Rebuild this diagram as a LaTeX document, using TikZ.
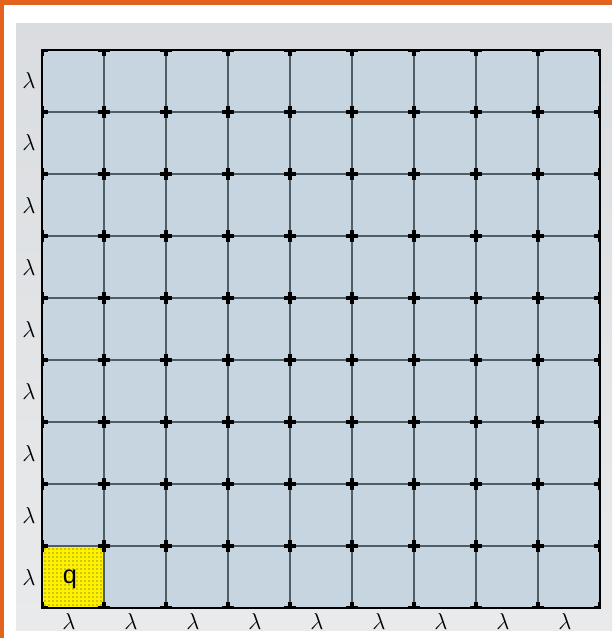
\documentclass[tikz,border=0pt]{standalone}
\usepackage{fontspec}
\newfontfamily\arialfont{Liberation Sans}
\definecolor{frameorange}{HTML}{E2631E}
\definecolor{panelgray}{HTML}{D6D9DC}
\definecolor{cellblue}{HTML}{C6D5E0}
\definecolor{innerline}{HTML}{4F5E66}
\definecolor{qyellow}{HTML}{FFF200}
\tikzset{
  gridline/.style={draw=innerline, line width=1.2pt},
  borderline/.style={draw=black, line width=2.2pt},
  joint/.style={line width=2.4pt, draw=black},
  lam/.style={font=\fontsize{18}{18}\selectfont, inner sep=0pt},
}
\begin{document}
\begin{tikzpicture}[x=0.75pt,y=-0.75pt]
\useasboundingbox (0,0) rectangle (612,638);
% background and frame
\fill[white] (0,0) rectangle (612,638);
\fill[frameorange] (0,0) rectangle (612,5);
\fill[frameorange] (0,0) rectangle (4,638);
\shade[top color=panelgray!90!white, bottom color=panelgray!55!white] (16,24) rectangle (612,630);
% cells
\fill[cellblue] (42,50) rectangle (600,608);
\fill[qyellow] (42,546) rectangle (104,608);
\foreach \a in {0,...,14} {
  \foreach \b in {0,...,14} {
    \fill[black!80] ({45+4*\a},{549+4*\b}) circle (0.55);
  }
}
% interior grid lines
\foreach \i in {1,...,8} {
  \draw[gridline] ({42+62*\i},50) -- ({42+62*\i},608);
  \draw[gridline] (42,{50+62*\i}) -- (600,{50+62*\i});
}
% outer border
\draw[borderline] (42,50) rectangle (600,608);
% joints
\begin{scope}
\clip (42,50) rectangle (600,608);
\foreach \i in {0,...,9} {
  \foreach \j in {0,...,9} {
    \draw[joint] ({42+62*\i-6},{50+62*\j}) -- ({42+62*\i+6},{50+62*\j});
    \draw[joint] ({42+62*\i},{50+62*\j-6}) -- ({42+62*\i},{50+62*\j+6});
  }
}
\end{scope}
% q label
\node[font=\arialfont\fontsize{19}{19}\selectfont, inner sep=0pt] (q) at (70,579) {q};
% lambda labels
\foreach \j in {1,...,9} {
  \node[lam] (lrow\j) at (29,{50+62*\j-31}) {$\lambda$};
}
\foreach \i in {1,...,9} {
  \node[lam] (lcol\i) at ({42+62*\i-35},621) {$\lambda$};
}
\end{tikzpicture}
\end{document}
